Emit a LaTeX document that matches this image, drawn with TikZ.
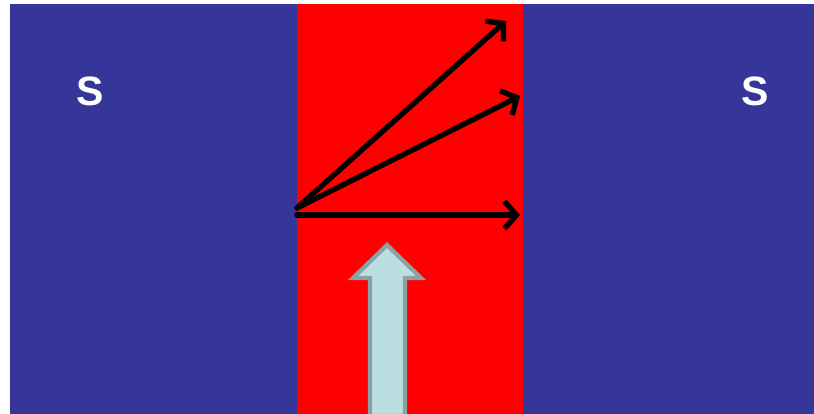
\documentclass[tikz,border=0pt]{standalone}
\usepackage{fontspec}
\setmainfont{Liberation Sans}
\usepackage{tikz}
\usetikzlibrary{arrows.meta,positioning}
\definecolor{magnet}{HTML}{36369A}
\definecolor{wirefill}{HTML}{BBDFE0}
\definecolor{wireedge}{HTML}{8AA2A3}
\tikzset{
  pole/.style={fill=magnet},
  gap/.style={fill=red},
  plbl/.style={text=white,font=\fontsize{41}{41}\selectfont\bfseries,inner sep=0pt},
  vec/.style={line width=5.2pt,line cap=round,-{Straight Barb[length=12pt,width=27pt,line width=5.2pt]}},
  vecshade/.style={vec,draw=black!80!red,opacity=0.45,shift={(1.5,3)}},
  bigarr/.style={fill=wirefill,draw=wireedge,line width=4.2pt,line join=miter},
}
\begin{document}
\begin{tikzpicture}[x=1pt,y=-1pt]
 \useasboundingbox (0,0) rectangle (814,414);
 \fill[white] (0,0) rectangle (814,414);
 \fill[pole] (10,4) rectangle (297,414);
 \fill[gap] (297,4) rectangle (523,414);
 \fill[pole] (523,4) rectangle (814,414);
 \node[plbl] (sL) at (90,91) {S};
 \node[plbl] (sR) at (755,91) {S};
 % field vectors
 \coordinate (o) at (297,208);
 \coordinate (o2) at (297,215);
 \coordinate (t1) at (506,21);
 \coordinate (t2) at (520,96);
 \coordinate (t3) at (520,215);
 \foreach \s/\e in {o/t1,o/t2,o2/t3}{
   \draw[vecshade] (\s) -- (\e);
   \draw[vec] (\s) -- (\e);
 }
 % current
 \draw[bigarr] (387,245) -- (421,278) -- (405,278) -- (405,416) -- (370,416) -- (370,278) -- (353,278) -- cycle;
\end{tikzpicture}
\end{document}
